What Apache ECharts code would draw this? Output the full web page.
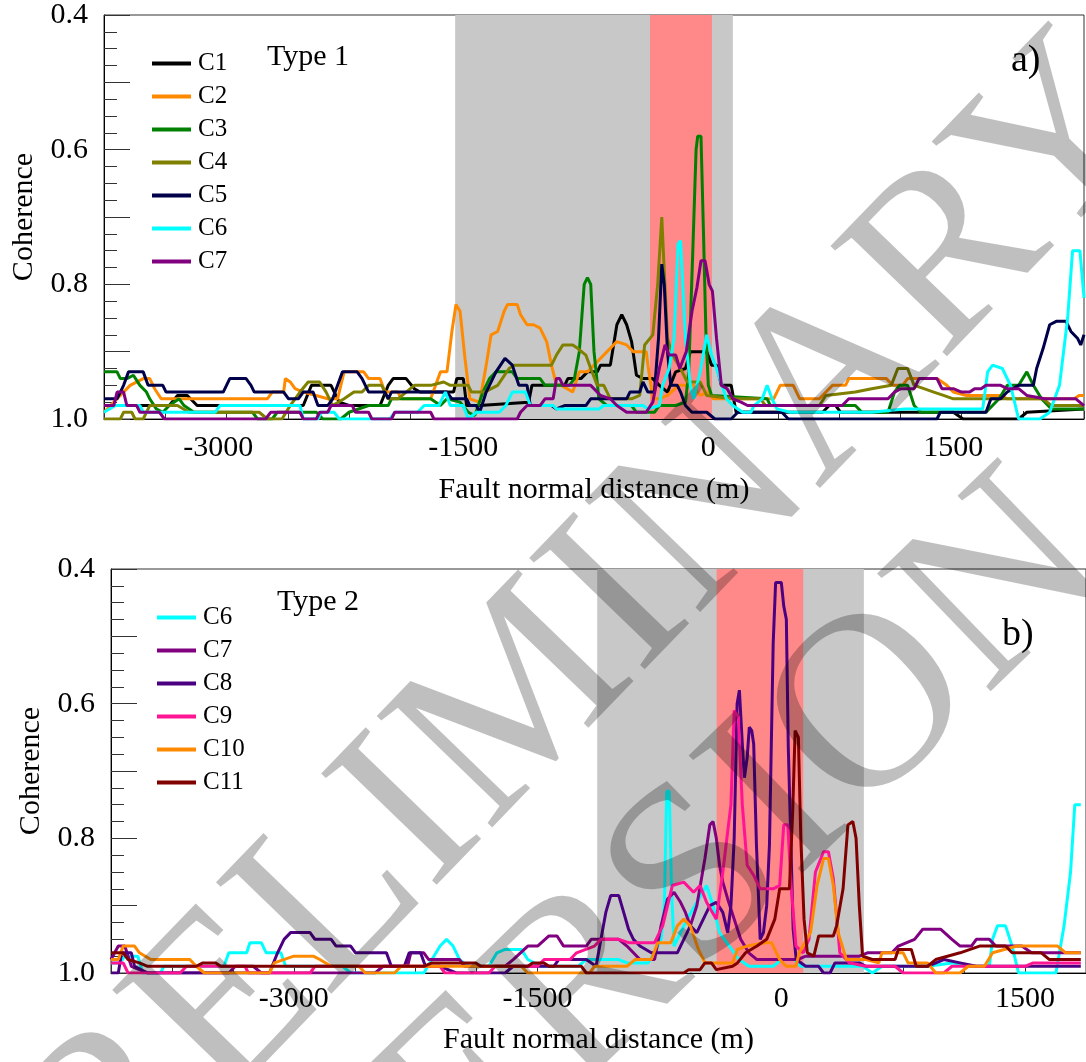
<!DOCTYPE html>
<html>
<head>
<meta charset="utf-8">
<script src="https://cdn.jsdelivr.net/npm/echarts@6/dist/echarts.min.js"></script>
<style>
html, body { margin: 0; padding: 0; background: #fff; }
#chart { width: 1086px; height: 1062px; }
</style>
</head>
<body>
<div id="chart"></div>
<script>
// ---- axis ticks / labels ----
var xLabelValues = [-3000, -1500, 0, 1500];
var yLabelValues = [0.4, 0.6, 0.8, 1.0];
var xTicksA = [-3700, -3325, -2950, -2575, -2200, -1825, -1450, -1075, -700, -325, 50, 425, 800, 1175, 1550, 1925, 2300];

// ---- shaded zones [from, to] (m) ----
var grayZoneA = [-1550, 150];
var redZoneA = [-357, 22];
var grayZoneB = [-1133, 508];
var redZoneB = [-398, 135];

// ---- panel a) Type 1 ----
var a_C1 = [[-3700,0.98],[-3300,0.98],[-3250,0.965],[-3190,0.965],[-3130,0.98],[-2480,0.98],[-2430,0.95],[-2310,0.95],[-2260,0.975],[-2200,0.98],[-2010,0.98],[-1960,0.95],[-1930,0.94],[-1850,0.94],[-1800,0.955],[-1765,0.96],[-1560,0.96],[-1540,0.94],[-1500,0.94],[-1480,0.98],[-1400,0.98],[-1100,0.975],[-1080,0.95],[-880,0.95],[-860,0.94],[-780,0.94],[-740,0.93],[-680,0.93],[-660,0.92],[-600,0.92],[-560,0.86],[-530,0.845],[-500,0.86],[-470,0.885],[-440,0.935],[-400,0.94],[-340,0.94],[-300,0.95],[-250,0.96],[-200,0.93],[-140,0.925],[-110,0.90],[-10,0.90],[20,0.92],[50,0.92],[80,0.95],[140,0.95],[170,0.99],[700,0.99],[740,0.98],[780,0.98],[810,0.99],[1500,0.99],[1560,1.0],[1900,1.0],[1950,0.99],[2300,0.985]];
var a_C2 = [[-3700,0.99],[-3620,0.97],[-3540,0.95],[-3460,0.94],[-3420,0.94],[-3390,0.955],[-3350,0.97],[-2700,0.97],[-2670,0.96],[-2600,0.96],[-2590,0.94],[-2560,0.945],[-2530,0.955],[-2480,0.96],[-2330,0.97],[-2270,0.97],[-2230,0.93],[-2110,0.93],[-2080,0.94],[-2010,0.94],[-1980,0.96],[-1900,0.96],[-1880,0.97],[-1700,0.97],[-1640,0.93],[-1600,0.93],[-1570,0.87],[-1545,0.83],[-1520,0.84],[-1490,0.91],[-1460,0.97],[-1400,0.975],[-1360,0.92],[-1330,0.875],[-1290,0.87],[-1250,0.84],[-1230,0.83],[-1170,0.83],[-1150,0.845],[-1110,0.86],[-1070,0.86],[-1030,0.865],[-990,0.885],[-960,0.92],[-930,0.95],[-900,0.95],[-830,0.96],[-790,0.93],[-740,0.93],[-680,0.915],[-620,0.90],[-560,0.885],[-500,0.89],[-460,0.90],[-380,0.90],[-370,0.92],[-340,0.97],[-300,0.97],[-250,0.965],[-180,0.95],[-90,0.95],[-50,0.965],[0,0.96],[30,0.97],[400,0.97],[440,0.95],[520,0.95],[560,0.97],[680,0.97],[720,0.96],[760,0.95],[840,0.95],[860,0.94],[1090,0.94],[1130,0.95],[1190,0.95],[1220,0.94],[1400,0.94],[1460,0.95],[1500,0.96],[1580,0.965],[1790,0.965],[1830,0.97],[2240,0.97],[2270,0.965],[2300,0.965]];
var a_C3 = [[-3700,0.93],[-3620,0.93],[-3600,0.94],[-3560,0.94],[-3520,0.935],[-3480,0.95],[-3440,0.96],[-3420,0.97],[-3380,0.985],[-3340,0.99],[-3300,0.98],[-3240,0.97],[-3210,0.98],[-3150,0.99],[-2790,0.99],[-2760,1.0],[-2670,1.0],[-2640,0.99],[-2400,0.99],[-2360,1.0],[-2250,1.0],[-2200,0.99],[-2080,0.98],[-1960,0.98],[-1940,0.97],[-1700,0.97],[-1640,0.98],[-1600,0.97],[-1520,0.975],[-1470,0.99],[-1430,0.995],[-1380,0.96],[-1340,0.94],[-1300,0.93],[-1200,0.93],[-1170,0.94],[-1030,0.94],[-1000,0.95],[-850,0.95],[-820,0.94],[-790,0.90],[-760,0.80],[-740,0.79],[-720,0.80],[-700,0.90],[-670,0.97],[-620,0.98],[-470,0.98],[-440,0.99],[-330,0.99],[-300,0.98],[-200,0.98],[-140,0.975],[-120,0.93],[-95,0.75],[-75,0.60],[-65,0.58],[-45,0.58],[-30,0.72],[-15,0.87],[0,0.95],[20,0.965],[360,0.97],[380,0.98],[900,0.98],[940,0.99],[1100,0.99],[1140,0.96],[1170,0.95],[1220,0.95],[1260,0.98],[1300,0.99],[1700,0.99],[1780,0.97],[1830,0.95],[1900,0.95],[1950,0.93],[1990,0.95],[2040,0.97],[2100,0.985],[2300,0.985]];
var a_C4 = [[-3700,1.0],[-3600,1.0],[-3580,0.99],[-3530,0.99],[-3510,1.0],[-3460,1.0],[-3420,0.98],[-3250,0.98],[-3180,0.99],[-2750,0.99],[-2700,1.0],[-2610,1.0],[-2560,0.98],[-2500,0.96],[-2450,0.945],[-2380,0.945],[-2340,0.96],[-2300,0.98],[-2230,0.97],[-2170,0.96],[-2120,0.96],[-2080,0.95],[-2000,0.95],[-1960,0.97],[-1900,0.97],[-1850,0.96],[-1800,0.95],[-1700,0.95],[-1620,0.945],[-1580,0.95],[-1470,0.95],[-1450,0.96],[-1370,0.96],[-1290,0.95],[-1220,0.925],[-1190,0.92],[-960,0.92],[-930,0.905],[-890,0.89],[-830,0.89],[-800,0.895],[-750,0.905],[-720,0.925],[-680,0.95],[-640,0.95],[-600,0.97],[-470,0.97],[-420,0.965],[-390,0.89],[-340,0.875],[-310,0.80],[-285,0.70],[-270,0.78],[-250,0.88],[-220,0.905],[-170,0.925],[-130,0.945],[-50,0.945],[-10,0.965],[150,0.97],[320,0.97],[350,0.98],[680,0.98],[720,0.965],[900,0.96],[1000,0.955],[1120,0.95],[1160,0.925],[1220,0.925],[1260,0.95],[1320,0.955],[1380,0.96],[1440,0.965],[1500,0.97],[2050,0.97],[2100,0.98],[2300,0.98]];
var a_C5 = [[-3700,0.97],[-3620,0.97],[-3580,0.95],[-3550,0.93],[-3460,0.93],[-3430,0.95],[-3340,0.95],[-3320,0.96],[-2970,0.96],[-2930,0.94],[-2830,0.94],[-2800,0.95],[-2780,0.96],[-2600,0.96],[-2570,0.97],[-2510,0.97],[-2480,0.96],[-2420,0.96],[-2390,0.98],[-2330,0.98],[-2300,0.97],[-2270,0.95],[-2240,0.93],[-2150,0.93],[-2120,0.94],[-2080,0.96],[-1980,0.96],[-1960,0.97],[-1940,0.96],[-1600,0.96],[-1570,0.97],[-1480,0.97],[-1460,0.98],[-1420,0.98],[-1400,0.99],[-1360,0.96],[-1300,0.93],[-1245,0.91],[-1200,0.92],[-1160,0.95],[-1110,0.95],[-1090,0.98],[-960,0.98],[-930,0.985],[-880,0.98],[-750,0.98],[-720,0.97],[-500,0.97],[-480,0.96],[-420,0.96],[-400,0.945],[-370,0.96],[-330,0.96],[-305,0.88],[-285,0.77],[-270,0.80],[-250,0.90],[-230,0.95],[-190,0.95],[-170,0.96],[-140,0.98],[-100,0.99],[-10,0.99],[40,1.0],[140,1.0],[180,0.99],[450,0.99],[490,1.0],[1400,1.0],[1420,0.99],[1700,0.99],[1730,0.97],[1790,0.97],[1830,0.96],[1900,0.95],[1990,0.95],[2010,0.925],[2050,0.895],[2090,0.86],[2130,0.855],[2190,0.855],[2220,0.87],[2260,0.88],[2280,0.89],[2300,0.875]];
var a_C6 = [[-3700,0.99],[-3630,0.98],[-3480,0.98],[-3460,0.99],[-3020,0.99],[-2990,0.98],[-2500,0.98],[-2480,1.0],[-2390,1.0],[-2370,0.99],[-2290,0.99],[-2260,1.0],[-1950,1.0],[-1920,0.99],[-1780,0.99],[-1740,0.98],[-1650,0.98],[-1610,0.96],[-1580,0.98],[-1500,0.98],[-1470,1.0],[-1420,0.99],[-1280,0.99],[-1240,0.98],[-1200,0.96],[-1120,0.96],[-1090,0.98],[-950,0.98],[-930,0.985],[-670,0.985],[-640,0.98],[-400,0.98],[-370,0.985],[-300,0.98],[-280,0.95],[-240,0.925],[-210,0.88],[-185,0.74],[-170,0.735],[-140,0.88],[-110,0.95],[-90,0.97],[-50,0.93],[-10,0.875],[20,0.905],[50,0.925],[110,0.97],[150,0.98],[210,0.99],[260,0.99],[280,0.98],[330,0.97],[360,0.95],[390,0.97],[420,0.985],[500,0.99],[1000,0.99],[1200,0.985],[1680,0.985],[1710,0.93],[1740,0.92],[1800,0.925],[1850,0.95],[1900,1.0],[2030,1.0],[2090,0.99],[2150,0.95],[2200,0.85],[2230,0.75],[2275,0.75],[2300,0.82]];
var a_C7 = [[-3700,0.98],[-3640,0.98],[-3620,0.96],[-3580,0.96],[-3560,0.98],[-3500,0.98],[-3480,0.99],[-3360,0.99],[-3330,1.0],[-2710,1.0],[-2680,0.99],[-2500,0.99],[-2480,1.0],[-2400,1.0],[-2380,0.99],[-2330,0.99],[-2310,0.98],[-2180,0.98],[-2160,0.99],[-2080,0.99],[-2060,1.0],[-1940,1.0],[-1920,0.99],[-1700,0.99],[-1680,1.0],[-1170,1.0],[-1150,0.99],[-1110,0.98],[-1030,0.98],[-1000,0.97],[-950,0.97],[-930,0.94],[-910,0.94],[-890,0.95],[-720,0.95],[-660,0.965],[-600,0.97],[-560,0.98],[-500,0.99],[-380,0.99],[-340,0.975],[-300,0.925],[-265,0.89],[-240,0.905],[-200,0.905],[-175,0.925],[-135,0.90],[-100,0.84],[-70,0.805],[-45,0.765],[-20,0.765],[5,0.80],[25,0.81],[50,0.88],[80,0.95],[115,0.955],[150,0.97],[200,0.975],[240,0.98],[820,0.98],[860,0.97],[1100,0.97],[1140,0.96],[1180,0.955],[1260,0.955],[1290,0.94],[1400,0.94],[1430,0.955],[1500,0.955],[1550,0.96],[1600,0.96],[1630,0.955],[1670,0.955],[1700,0.95],[1790,0.95],[1830,0.955],[1900,0.955],[1950,0.965],[2060,0.97],[2250,0.97],[2300,0.98]];

// ---- panel b) Type 2 ----
var b_C6 = [[-4125,0.985],[-4070,0.985],[-4040,0.975],[-3960,0.975],[-3930,1.0],[-3820,1.0],[-3800,0.99],[-3430,0.99],[-3400,0.97],[-3290,0.97],[-3270,0.955],[-3200,0.955],[-3170,0.97],[-3080,0.97],[-3050,0.99],[-2700,0.99],[-2650,1.0],[-2200,1.0],[-2150,0.98],[-2100,0.96],[-2060,0.95],[-2020,0.96],[-1980,0.98],[-1930,0.99],[-1800,0.99],[-1750,0.97],[-1700,0.965],[-1600,0.965],[-1560,0.98],[-1480,0.99],[-1250,0.99],[-1200,0.98],[-1000,0.98],[-950,0.985],[-820,0.985],[-780,0.97],[-740,0.95],[-720,0.90],[-705,0.73],[-690,0.73],[-675,0.88],[-660,0.96],[-620,0.94],[-580,0.92],[-460,0.87],[-420,0.90],[-380,0.94],[-320,0.96],[-260,0.98],[-200,0.99],[-50,0.99],[0,0.98],[80,0.98],[120,0.99],[500,0.99],[560,1.0],[620,0.99],[900,0.99],[1050,0.985],[1150,0.99],[1280,0.99],[1300,0.95],[1330,0.93],[1380,0.93],[1420,0.96],[1460,1.0],[1690,1.0],[1740,0.93],[1780,0.85],[1806,0.75],[1843,0.75]];
var b_C7 = [[-4125,0.98],[-4080,0.96],[-4040,0.96],[-4000,0.99],[-3900,1.0],[-3400,1.0],[-3360,0.99],[-3250,0.99],[-3200,1.0],[-2500,1.0],[-2450,0.99],[-2300,0.99],[-2280,0.97],[-2200,0.97],[-2170,0.98],[-1980,0.98],[-1950,0.99],[-1700,0.99],[-1650,0.98],[-1560,0.96],[-1500,0.96],[-1430,0.945],[-1380,0.945],[-1340,0.96],[-1200,0.96],[-1170,0.95],[-1000,0.95],[-950,0.96],[-870,0.98],[-780,0.98],[-740,0.93],[-700,0.89],[-660,0.88],[-620,0.895],[-590,0.91],[-560,0.93],[-520,0.90],[-470,0.83],[-440,0.78],[-420,0.775],[-400,0.80],[-380,0.84],[-360,0.865],[-330,0.89],[-290,0.92],[-250,0.95],[-200,0.97],[-150,0.98],[100,0.98],[150,0.975],[480,0.975],[530,0.97],[680,0.97],[720,0.96],[820,0.95],[870,0.935],[980,0.935],[1050,0.95],[1100,0.96],[1170,0.96],[1200,0.95],[1280,0.95],[1320,0.96],[1480,0.96],[1540,0.97],[1843,0.97]];
var b_C8 = [[-4125,1.0],[-4080,1.0],[-4060,0.97],[-4000,0.97],[-3980,0.99],[-3900,1.0],[-3150,1.0],[-3100,0.97],[-3060,0.95],[-3020,0.94],[-2900,0.94],[-2870,0.95],[-2770,0.95],[-2740,0.96],[-2650,0.96],[-2620,0.97],[-2430,0.97],[-2400,0.99],[-2320,0.99],[-2290,0.97],[-2220,0.97],[-2190,0.99],[-2100,0.99],[-2000,1.0],[-1700,1.0],[-1650,0.99],[-1400,0.99],[-1370,0.98],[-1200,0.98],[-1140,0.99],[-1110,0.95],[-1080,0.91],[-1050,0.885],[-1000,0.885],[-970,0.91],[-940,0.935],[-910,0.95],[-870,0.96],[-800,0.97],[-640,0.97],[-600,0.95],[-560,0.93],[-520,0.94],[-480,0.92],[-440,0.90],[-400,0.895],[-360,0.91],[-330,0.94],[-310,0.90],[-290,0.80],[-272,0.60],[-258,0.58],[-240,0.66],[-227,0.71],[-210,0.68],[-197,0.635],[-182,0.64],[-170,0.66],[-153,0.81],[-130,0.95],[-110,0.94],[-90,0.90],[-73,0.81],[-50,0.51],[-35,0.42],[0,0.42],[15,0.455],[31,0.475],[43,0.665],[73,0.935],[92,0.98],[150,0.99],[230,0.99],[260,1.0],[300,1.0],[330,0.985],[480,0.985],[520,0.99],[900,0.99],[1000,0.98],[1100,0.985],[1200,0.99],[1843,0.99]];
var b_C9 = [[-4125,0.985],[-4050,0.985],[-4020,1.0],[-3700,1.0],[-3660,0.99],[-3300,0.99],[-3280,1.0],[-2900,1.0],[-2870,0.99],[-2100,0.99],[-2070,1.0],[-1800,1.0],[-1760,0.99],[-1500,0.99],[-1460,0.98],[-1300,0.98],[-1260,0.97],[-1150,0.96],[-1110,0.95],[-1000,0.95],[-940,0.955],[-780,0.955],[-730,0.93],[-670,0.87],[-600,0.865],[-540,0.88],[-500,0.87],[-460,0.895],[-400,0.92],[-360,0.85],[-310,0.75],[-290,0.61],[-265,0.62],[-240,0.75],[-210,0.84],[-170,0.855],[-130,0.875],[-50,0.875],[-10,0.87],[15,0.78],[40,0.78],[60,0.87],[90,0.96],[135,0.97],[170,0.95],[210,0.85],[260,0.82],[290,0.82],[320,0.86],[360,0.97],[420,0.985],[520,0.99],[700,0.99],[750,1.0],[1000,1.0],[1050,0.99],[1500,0.99],[1550,0.985],[1843,0.985]];
var b_C10 = [[-4125,0.98],[-4080,0.98],[-4050,0.96],[-3980,0.96],[-3950,0.97],[-3880,0.98],[-3640,0.98],[-3600,0.99],[-3550,1.0],[-3150,1.0],[-3120,0.985],[-3000,0.975],[-2880,0.975],[-2840,0.98],[-2770,0.99],[-2600,0.99],[-2560,1.0],[-2380,1.0],[-2340,0.99],[-1600,0.99],[-1560,1.0],[-1180,1.0],[-1150,0.99],[-950,0.99],[-900,0.98],[-800,0.98],[-760,0.955],[-680,0.955],[-640,0.93],[-600,0.92],[-560,0.93],[-510,0.965],[-470,0.985],[-300,0.985],[-270,0.965],[-210,0.96],[-100,0.955],[-60,0.955],[-10,0.98],[30,0.99],[90,0.99],[110,0.97],[180,0.94],[220,0.87],[260,0.83],[290,0.83],[320,0.87],[350,0.94],[400,0.98],[520,0.98],[600,0.985],[620,0.97],[750,0.97],[780,0.985],[900,0.985],[950,1.0],[1100,1.0],[1150,0.99],[1250,0.99],[1300,0.97],[1450,0.96],[1700,0.96],[1750,0.97],[1843,0.97]];
var b_C11 = [[-4125,0.97],[-4050,0.97],[-4020,0.98],[-3950,0.985],[-3900,0.99],[-3600,0.99],[-3560,0.985],[-3480,0.985],[-3450,0.99],[-2200,0.99],[-2150,0.985],[-1880,0.985],[-1850,0.99],[-1560,0.99],[-1530,0.985],[-1460,0.985],[-1430,0.99],[-1230,0.99],[-1200,1.0],[-600,1.0],[-570,0.995],[-500,0.995],[-470,0.985],[-430,0.985],[-400,0.995],[-300,0.99],[-270,0.985],[-220,0.97],[-150,0.96],[-90,0.95],[-40,0.92],[-10,0.875],[50,0.875],[70,0.76],[85,0.64],[105,0.65],[120,0.80],[140,0.92],[160,0.97],[200,0.975],[230,0.945],[320,0.945],[340,0.93],[380,0.875],[410,0.78],[440,0.775],[460,0.80],[480,0.90],[500,0.975],[560,0.98],[700,0.98],[720,0.965],[800,0.965],[830,0.99],[900,0.99],[950,0.98],[1100,0.97],[1220,0.96],[1380,0.96],[1420,0.97],[1600,0.97],[1650,0.98],[1843,0.98]];

var colors = {
    C1: '#000000', C2: '#ff8a00', C3: '#008000', C4: '#808000', C5: '#00004a',
    C6: '#00ffff', C7: '#800080', C8: '#4b0082', C9: '#ff1493', C10: '#ff8a00', C11: '#800000'
};

var FONT = 'Liberation Serif';

function lineSeries(name, data, idx) {
    return {
        name: name,
        type: 'line',
        xAxisIndex: idx,
        yAxisIndex: idx,
        data: data,
        symbol: 'none',
        showSymbol: false,
        silent: true,
        z: 3,
        lineStyle: { color: colors[name], width: 3 },
        itemStyle: { color: colors[name] }
    };
}

function zoneSeries(idx, gray, red) {
    return {
        type: 'line',
        xAxisIndex: idx,
        yAxisIndex: idx,
        data: [[gray[0], 1.0]],
        symbol: 'none',
        silent: true,
        lineStyle: { opacity: 0 },
        z: 1,
        markArea: {
            silent: true,
            data: [
                [{ xAxis: gray[0], itemStyle: { color: '#c8c8c8' } }, { xAxis: gray[1] }],
                [{ xAxis: red[0], itemStyle: { color: '#ff8888' } }, { xAxis: red[1] }]
            ]
        }
    };
}

function yAxis(idx) {
    return {
        type: 'value',
        gridIndex: idx,
        min: 0.4,
        max: 1.0,
        interval: 0.1,
        inverse: true,
        name: 'Coherence',
        nameLocation: 'middle',
        nameGap: 58,
        nameTextStyle: { fontFamily: FONT, fontSize: 30, color: '#000' },
        axisLine: { show: true, onZero: false, lineStyle: { color: '#000', width: 1 } },
        axisTick: { show: true, inside: true, length: 26, lineStyle: { color: '#333' } },
        minorTick: { show: true, splitNumber: 4, length: 13, lineStyle: { color: '#333' } },
        splitLine: { show: false },
        axisLabel: {
            customValues: yLabelValues,
            margin: 16,
            fontFamily: FONT, fontSize: 30, color: '#000',
            formatter: function (v) { return v.toFixed(1); }
        }
    };
}

function xAxis(idx, min, max, ticks, labelMargin, nameGap) {
    var ax = {
        type: 'value',
        gridIndex: idx,
        min: min,
        max: max,
        name: 'Fault normal distance (m)',
        nameLocation: 'middle',
        nameGap: nameGap,
        nameTextStyle: { fontFamily: FONT, fontSize: 30, color: '#000' },
        axisLine: { show: true, onZero: false, lineStyle: { color: '#000', width: 1 } },
        axisTick: { show: true, inside: true, length: 8, lineStyle: { color: '#333' } },
        splitLine: { show: false },
        axisLabel: {
            customValues: xLabelValues,
            margin: labelMargin,
            fontFamily: FONT, fontSize: 30, color: '#000',
            formatter: function (v) { return String(v); }
        }
    };
    if (ticks) {
        ax.axisTick.customValues = ticks;
    } else {
        ax.interval = 375;
    }
    return ax;
}

function legend(names, left, top) {
    return {
        orient: 'vertical',
        left: left,
        top: top,
        data: names,
        icon: 'rect',
        itemWidth: 39,
        itemHeight: 4,
        itemGap: 8,
        selectedMode: false,
        textStyle: { fontFamily: FONT, fontSize: 25, color: '#000', lineHeight: 24, padding: [0, 0, 0, 2] }
    };
}

var myChart = echarts.init(document.getElementById('chart'));

var option = {
    animation: false,
    backgroundColor: '#fff',
    textStyle: { fontFamily: FONT },
    grid: [
        { left: 104, top: 14, width: 980, height: 405, show: true, borderColor: '#333', borderWidth: 1 },
        { left: 111, top: 569, width: 979, height: 404, show: true, borderColor: '#333', borderWidth: 1 }
    ],
    xAxis: [
        xAxis(0, -3700, 2300, xTicksA, 14, 56),
        xAxis(1, -4125, 1875, null, 11, 52)
    ],
    yAxis: [yAxis(0), yAxis(1)],
    legend: [
        legend(['C1', 'C2', 'C3', 'C4', 'C5', 'C6', 'C7'], 147, 46),
        legend(['C6', 'C7', 'C8', 'C9', 'C10', 'C11'], 152, 600)
    ],
    graphic: [
        { type: 'text', left: 267, top: 42, style: { text: 'Type 1', font: '30px "Liberation Serif"', fill: '#000' }, z: 10 },
        { type: 'text', left: 1011, top: 42, style: { text: 'a)', font: '38px "Liberation Serif"', fill: '#000' }, z: 10 },
        { type: 'text', left: 277, top: 587, style: { text: 'Type 2', font: '30px "Liberation Serif"', fill: '#000' }, z: 10 },
        { type: 'text', left: 1002, top: 616, style: { text: 'b)', font: '38px "Liberation Serif"', fill: '#000' }, z: 10 },
        // watermark
        { type: 'text', x: 545, y: 680, rotation: 46 * Math.PI / 180, silent: true, z: 100,
          style: { text: 'PRELIMINARY', font: '245px "Liberation Serif"', fill: 'rgba(0,0,0,0.25)', align: 'center', verticalAlign: 'middle' } },
        { type: 'text', x: 680, y: 900, rotation: 44 * Math.PI / 180, silent: true, z: 100,
          style: { text: 'VERSION', font: '250px "Liberation Serif"', fill: 'rgba(0,0,0,0.25)', align: 'center', verticalAlign: 'middle' } }
    ],
    series: [
        zoneSeries(0, grayZoneA, redZoneA),
        zoneSeries(1, grayZoneB, redZoneB),
        lineSeries('C1', a_C1, 0),
        lineSeries('C2', a_C2, 0),
        lineSeries('C3', a_C3, 0),
        lineSeries('C4', a_C4, 0),
        lineSeries('C5', a_C5, 0),
        lineSeries('C6', a_C6, 0),
        lineSeries('C7', a_C7, 0),
        lineSeries('C6', b_C6, 1),
        lineSeries('C7', b_C7, 1),
        lineSeries('C8', b_C8, 1),
        lineSeries('C9', b_C9, 1),
        lineSeries('C10', b_C10, 1),
        lineSeries('C11', b_C11, 1)
    ]
};

myChart.setOption(option);
</script>
</body>
</html>
